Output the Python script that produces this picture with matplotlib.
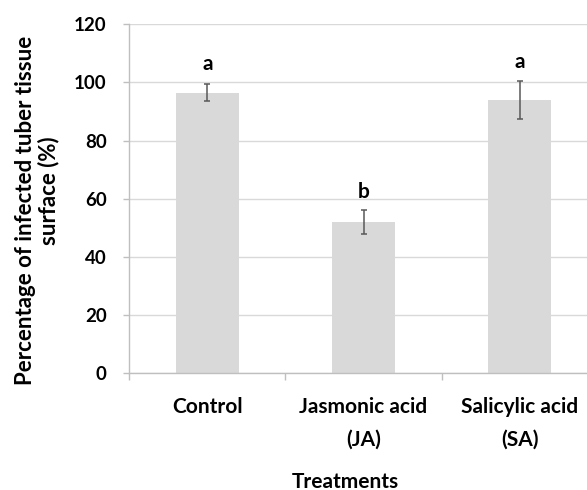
import numpy as np
import matplotlib
matplotlib.use("Agg")
import matplotlib.pyplot as plt

treatments = ["Control", "Jasmonic acid\n(JA)", "Salicylic acid\n(SA)"]
infected_pct = [96.5, 52.0, 94.0]
std_err = [3.0, 4.2, 6.6]
letters = ["a", "b", "a"]
letter_y = [106.5, 62.5, 107.0]
ylabel_lines = ["Percentage of infected tuber tissue", "surface (%)"]

plt.rcParams['font.family'] = ['Lato', 'DejaVu Sans']
plt.rcParams['font.weight'] = 'bold'

W, H = 587, 490
fig = plt.figure(figsize=(W / 100, H / 100), dpi=100)
# plot area runs off the right edge of the figure
ax = fig.add_axes([129.3 / W, 1 - 373.3 / H, 468.4 / W, 349.0 / H])

x = np.arange(len(treatments))
ax.bar(x, infected_pct, width=0.4, color='#d9d9d9', zorder=2)
ax.errorbar(x, infected_pct, yerr=std_err, fmt='none', ecolor='#595959',
            elinewidth=1.1, capsize=2, capthick=1.1, zorder=3)

for xi, ly, lab in zip(x, letter_y, letters):
    ax.text(xi, ly, lab, ha='center', va='center', fontsize=15,
            fontweight='bold')

ax.set_xlim(-0.5, 2.5)
ax.set_ylim(0, 120)
ax.set_yticks(np.arange(0, 121, 20))
ax.yaxis.grid(True, color='#d9d9d9', linewidth=1.0, zorder=0)
ax.set_axisbelow(True)

ax.set_xticks(x)
ax.set_xticklabels(treatments, fontsize=15, fontweight='bold', linespacing=1.8)
ax.set_xticks([-0.5, 0.5, 1.5], minor=True)
ax.tick_params(axis='x', which='major', length=0, pad=17)
ax.tick_params(axis='x', which='minor', length=5, color='#bfbfbf', width=1)
ax.tick_params(axis='y', length=4.3, color='#bfbfbf', width=1, labelsize=13.5, pad=12)
for t in ax.get_yticklabels():
    t.set_fontweight('bold')

for side in ['top', 'right']:
    ax.spines[side].set_visible(False)
for side in ['left', 'bottom']:
    ax.spines[side].set_color('#bfbfbf')
    ax.spines[side].set_linewidth(1)

# two-line y label, each line placed on its own
for xpos, ypos, line in zip([26, 49], [210, 191], ylabel_lines):
    fig.text(xpos / W, 1 - ypos / H, line, rotation=90, ha='center', va='center',
             fontsize=16, fontweight='bold')
fig.text(345 / W, 1 - 487.5 / H, "Treatments", ha='center', va='baseline',
         fontsize=15, fontweight='bold')

fig.savefig("out.png", dpi=100)
